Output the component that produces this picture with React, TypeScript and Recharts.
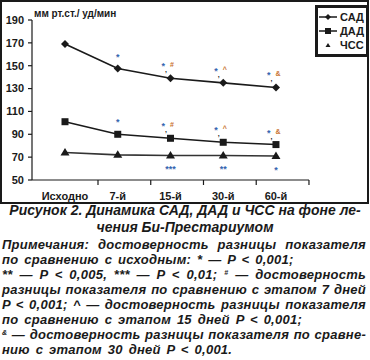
import React from 'react'
import { LineChart, Line, XAxis, YAxis, Legend, LabelList } from 'recharts'

const stages = ['Исходно', '7-й', '15-й', '30-й', '60-й']
const sad = [169, 147.5, 139, 135, 131]
const dad = [101, 90, 86.5, 83, 81]
const hr = [74, 72, 71.5, 71.5, 71]
const sadMarks = ['', '*', '*,#', '*,^', '*,&']
const dadMarks = ['', '*', '*,#', '*,^', '*,&']
const hrMarks = ['', '', '***', '**', '*']
const yTicks = [50, 70, 90, 110, 130, 150, 170, 190]

const data = stages.map((stage, i) => ({
  stage,
  sad: sad[i],
  dad: dad[i],
  hr: hr[i],
  sadMark: sadMarks[i],
  dadMark: dadMarks[i],
  hrMark: hrMarks[i],
}))

const INK = '#1a1a1a'
const STAR = '#3566b0'
const SIGN = '#c8702a'
const HALF = 33
const FONT = '"Liberation Sans", Arial, sans-serif'

function Diamond({ cx, cy }: any) {
  if (cx == null || cy == null) return null
  return <polygon points={`${cx},${cy - 4} ${cx + 4},${cy} ${cx},${cy + 4} ${cx - 4},${cy}`} fill={INK} />
}

function Square({ cx, cy }: any) {
  if (cx == null || cy == null) return null
  return <rect x={cx - 3.5} y={cy - 3.5} width={7} height={7} fill={INK} />
}

function Triangle({ cx, cy }: any) {
  if (cx == null || cy == null) return null
  return <polygon points={`${cx},${cy - 4.5} ${cx + 4.5},${cy + 3} ${cx - 4.5},${cy + 3}`} fill={INK} />
}

function MarkAbove({ x, y, value }: any) {
  if (!value) return null
  const [star, sign] = String(value).split(',')
  if (!sign) {
    return (
      <text x={x} y={y - 9} textAnchor="middle" fontSize={9} fontWeight="bold" fill={STAR} fontFamily={FONT}>
        {star}
      </text>
    )
  }
  return (
    <text x={x - 9} y={y - 9} fontSize={9} fontWeight="bold" fill={STAR} fontFamily={FONT}>
      <tspan>{star}</tspan>
      <tspan dy={3} fill={INK} fontSize={7}>,</tspan>
      <tspan dx={3} dy={-5} fill={SIGN} fontSize={7}>{sign}</tspan>
    </text>
  )
}

function MarkBelow({ x, y, value }: any) {
  if (!value) return null
  return (
    <text x={x} y={y + 17} textAnchor="middle" fontSize={9} fontWeight="bold" fill={STAR} fontFamily={FONT}>
      {value}
    </text>
  )
}

function StageTick({ x, y, payload }: any) {
  return (
    <g>
      <line x1={x + HALF} y1={y} x2={x + HALF} y2={y + 5} stroke={INK} strokeWidth={1.2} />
      <text x={x} y={y + 20} textAnchor="middle" fontSize={11} fontWeight="bold" fill={INK} fontFamily={FONT}>
        {payload.value}
      </text>
    </g>
  )
}

function LegendBox() {
  const rows = [
    { name: 'САД', line: true, mark: <polygon points="9,3 12,6 9,9 6,6" fill={INK} /> },
    { name: 'ДАД', line: true, mark: <rect x={6} y={3} width={6} height={6} fill={INK} /> },
    { name: 'ЧСС', line: false, mark: <polygon points="9,4 11.5,8 6.5,8" fill={INK} /> },
  ]
  return (
    <div
      style={{
        border: `3px solid ${INK}`,
        background: '#fff',
        padding: '2px 2px 2px 1px',
        fontFamily: FONT,
        fontWeight: 'bold',
        fontSize: 11,
        color: INK,
      }}
    >
      {rows.map((r) => (
        <div key={r.name} style={{ display: 'flex', alignItems: 'center', height: 14 }}>
          <svg width={20} height={12}>
            {r.line && <line x1={0} y1={6} x2={18} y2={6} stroke={INK} strokeWidth={1.5} />}
            {r.mark}
          </svg>
          <span style={{ marginLeft: 1 }}>{r.name}</span>
        </div>
      ))}
    </div>
  )
}

const noteLine = (justify: boolean): React.CSSProperties => ({
  whiteSpace: 'nowrap',
  textAlign: justify ? 'justify' : 'left',
  textAlignLast: justify ? 'justify' : 'left',
  wordSpacing: justify ? 0 : 2,
  height: 15,
  lineHeight: '15px',
})

const sup: React.CSSProperties = { fontSize: 7, position: 'relative', top: -4 }

export default function App() {
  return (
    <div style={{ position: 'relative', width: 370, height: 360, background: '#fff', fontFamily: FONT }}>
      <style>{'body{margin:0}'}</style>
      <div
        style={{
          position: 'absolute',
          left: 0,
          top: 0,
          width: 369,
          height: 204,
          border: `2px solid ${INK}`,
          boxSizing: 'border-box',
        }}
      >
        <div
          style={{
            position: 'absolute',
            left: 32,
            top: 6,
            fontSize: 10,
            fontWeight: 'bold',
            color: INK,
            whiteSpace: 'nowrap',
          }}
        >
          мм рт.ст./ уд/мин
        </div>
        <LineChart width={365} height={200} data={data} margin={{ top: 18, right: 4, bottom: 0, left: 0 }}>
          <XAxis
            dataKey="stage"
            scale="point"
            padding={{ left: HALF, right: HALF }}
            axisLine={{ stroke: INK, strokeWidth: 1.2 }}
            tickLine={false}
            tickSize={0}
            tickMargin={0}
            height={22}
            tick={<StageTick />}
            interval={0}
          />
          <YAxis
            domain={[50, 190]}
            ticks={yTicks}
            width={30}
            tickSize={4}
            tickMargin={4}
            axisLine={{ stroke: INK, strokeWidth: 1.2 }}
            tickLine={{ stroke: INK, strokeWidth: 1.2 }}
            tick={{ fontSize: 11, fontWeight: 'bold', fill: INK, fontFamily: FONT }}
            interval={0}
          />
          <Legend
            verticalAlign="top"
            align="right"
            layout="vertical"
            content={() => <LegendBox />}
            wrapperStyle={{ top: 3, right: -2, width: 'auto' }}
          />
          <Line dataKey="sad" name="САД" stroke={INK} strokeWidth={1.6} dot={<Diamond />} isAnimationActive={false}>
            <LabelList dataKey="sadMark" content={<MarkAbove />} />
          </Line>
          <Line dataKey="dad" name="ДАД" stroke={INK} strokeWidth={1.6} dot={<Square />} isAnimationActive={false}>
            <LabelList dataKey="dadMark" content={<MarkAbove />} />
          </Line>
          <Line dataKey="hr" name="ЧСС" stroke="#333" strokeWidth={1.6} dot={<Triangle />} isAnimationActive={false}>
            <LabelList dataKey="hrMark" content={<MarkBelow />} />
          </Line>
        </LineChart>
      </div>
      <div
        style={{
          position: 'absolute',
          left: 0,
          top: 202,
          width: 370,
          textAlign: 'center',
          fontStyle: 'italic',
          fontWeight: 'bold',
          fontSize: 14,
          lineHeight: '17px',
          color: INK,
        }}
      >
        <div>Рисунок 2. Динамика САД, ДАД и ЧСС на фоне ле-</div>
        <div>чения Би-Престариумом</div>
      </div>
      <div
        style={{
          position: 'absolute',
          left: 2,
          top: 237,
          width: 364,
          fontStyle: 'italic',
          fontWeight: 'bold',
          fontSize: 13,
          letterSpacing: 0.25,
          color: INK,
        }}
      >
        <div style={noteLine(true)}>Примечания: достоверность разницы показателя</div>
        <div style={noteLine(false)}>по сравнению с исходным: * — P &lt; 0,001;</div>
        <div style={noteLine(true)}>
          ** — P &lt; 0,005, *** — P &lt; 0,01; <span style={sup}>#</span> — достоверность
        </div>
        <div style={noteLine(true)}>разницы показателя по сравнению с этапом 7 дней</div>
        <div style={noteLine(true)}>P &lt; 0,001; ^ — достоверность разницы показателя</div>
        <div style={noteLine(false)}>по сравнению с этапом 15 дней P &lt; 0,001;</div>
        <div style={noteLine(true)}>
          <span style={sup}>&amp;</span> — достоверность разницы показателя по сравне-
        </div>
        <div style={noteLine(false)}>нию с этапом 30 дней P &lt; 0,001.</div>
      </div>
    </div>
  )
}
